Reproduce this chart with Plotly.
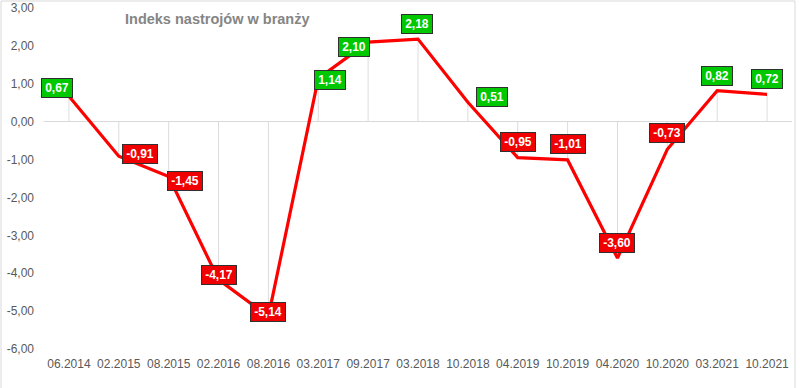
import plotly.graph_objects as go

categories = ["06.2014", "02.2015", "08.2015", "02.2016", "08.2016", "03.2017", "09.2017",
              "03.2018", "10.2018", "04.2019", "10.2019", "04.2020", "10.2020", "03.2021", "10.2021"]
values = [0.67, -0.91, -1.45, -4.17, -5.14, 1.14, 2.10, 2.18, 0.51, -0.95, -1.01, -3.60, -0.73, 0.82, 0.72]
y_ticks = [3, 2, 1, 0, -1, -2, -3, -4, -5, -6]
title_text = "Indeks nastrojów w branży"

# label offsets in pixels (layout only)
label_shift = [(-12, 8), (21, 2), (16, -4), (0, 5), (0, 4), (12, -2), (-14, -5), (-1, 15),
               (24, 5), (0, 16), (0, 16), (0, 15), (0, 16), (0, 15), (0, 15)]

def fmt(v):
    return f"{v:.2f}".replace(".", ",")

FONT = "Liberation Sans"

drop_x, drop_y = [], []
for c, v in zip(categories, values):
    drop_x += [c, c, None]
    drop_y += [0, v, None]

fig = go.Figure()
fig.add_trace(go.Scatter(x=drop_x, y=drop_y, mode="lines",
                         line=dict(color="#dcdcdc", width=1), hoverinfo="skip", showlegend=False))
fig.add_trace(go.Scatter(x=categories, y=values, mode="lines",
                         line=dict(color="#ff0000", width=3.2), showlegend=False))

L, R, T, B = 44, 8, 8, 39
W, H = 800, 388
pw, ph = W - L - R, H - T - B

annotations = []
for i, (v, (dx, dy)) in enumerate(zip(values, label_shift)):
    pos = v >= 0
    annotations.append(dict(
        x=i, y=v, xref="x", yref="y", text=f"<b>{fmt(v)}</b>", showarrow=False,
        xshift=dx, yshift=dy,
        font=dict(family=FONT, size=12, color="white"),
        bgcolor="#00c800" if pos else "#f00000",
        bordercolor="#303030", borderwidth=1, borderpad=2,
        width=26 if pos else 30, height=14,
    ))
annotations.append(dict(
    x=(217 - L) / pw, y=(H - B - 19) / ph, xref="paper", yref="paper",
    xanchor="center", yanchor="middle",
    text=f"<b>{title_text}</b>", showarrow=False,
    font=dict(family=FONT, size=14.5, color="#858585"),
))

fig.update_layout(
    width=W, height=H,
    margin=dict(l=L, r=R, t=T, b=B, autoexpand=False),
    paper_bgcolor="white", plot_bgcolor="white",
    annotations=annotations,
    font=dict(family=FONT, size=12, color="#595959"),
    shapes=[dict(type="rect", xref="paper", yref="paper",
                 x0=(1 - L) / pw, x1=(795 - L) / pw,
                 y0=(H - B - 395) / ph, y1=(H - B - 1) / ph,
                 line=dict(color="#d9d9d9", width=1), layer="below")],
)
fig.update_xaxes(type="category", categoryorder="array", categoryarray=categories,
                 range=[-0.5, len(categories) - 0.5], showgrid=False, showline=False,
                 automargin=False,
                 ticks="", ticklabelstandoff=6, tickfont=dict(size=12, color="#595959"))
fig.update_yaxes(range=[-6, 3], tickvals=y_ticks, ticktext=[fmt(t) for t in y_ticks],
                 showgrid=False, zeroline=True, zerolinecolor="#d9d9d9", zerolinewidth=1,
                 showline=False, ticks="", ticklabelstandoff=9, automargin=False,
                 tickfont=dict(size=12, color="#595959"))

fig.write_html("out.html", config={"displayModeBar": False},
               post_script="document.body.style.margin='0';")
